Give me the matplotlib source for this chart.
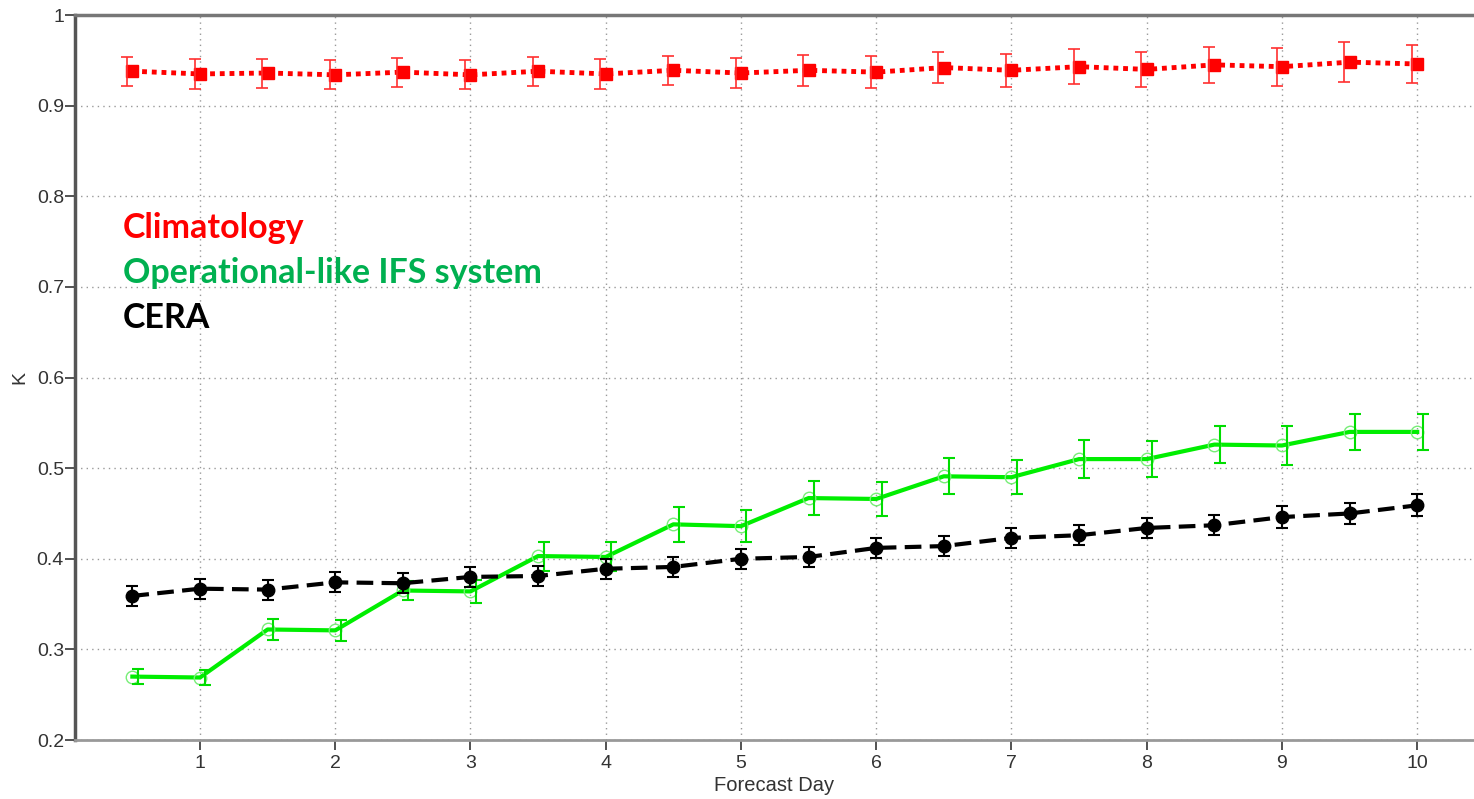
import matplotlib
matplotlib.use("Agg")
import matplotlib.pyplot as plt
import numpy as np

days = [0.5, 1, 1.5, 2, 2.5, 3, 3.5, 4, 4.5, 5, 5.5, 6, 6.5, 7, 7.5, 8, 8.5, 9, 9.5, 10]

clim = [0.938, 0.935, 0.936, 0.934, 0.937, 0.934, 0.938, 0.935, 0.939, 0.936,
        0.939, 0.937, 0.942, 0.939, 0.943, 0.940, 0.945, 0.943, 0.948, 0.946]
clim_err = [0.016, 0.017, 0.016, 0.016, 0.016, 0.016, 0.016, 0.017, 0.016, 0.017,
            0.017, 0.018, 0.017, 0.018, 0.019, 0.019, 0.020, 0.021, 0.022, 0.021]

ifs = [0.270, 0.269, 0.322, 0.321, 0.365, 0.364, 0.403, 0.402, 0.438, 0.436,
       0.467, 0.466, 0.491, 0.490, 0.510, 0.510, 0.526, 0.525, 0.540, 0.540]
ifs_err = [0.008, 0.008, 0.012, 0.012, 0.011, 0.013, 0.016, 0.016, 0.019, 0.0175,
           0.019, 0.019, 0.020, 0.019, 0.021, 0.020, 0.020, 0.021, 0.020, 0.020]

cera = [0.359, 0.367, 0.366, 0.374, 0.373, 0.380, 0.381, 0.389, 0.391, 0.400,
        0.402, 0.412, 0.414, 0.423, 0.426, 0.434, 0.437, 0.446, 0.450, 0.459]
cera_err = [0.011, 0.011, 0.011, 0.011, 0.011, 0.011, 0.011, 0.011, 0.011, 0.011,
            0.011, 0.011, 0.011, 0.011, 0.011, 0.011, 0.011, 0.012, 0.012, 0.012]

xticks = [1, 2, 3, 4, 5, 6, 7, 8, 9, 10]
yticks = [0.2, 0.3, 0.4, 0.5, 0.6, 0.7, 0.8, 0.9, 1.0]
ytick_labels = ["0.2", "0.3", "0.4", "0.5", "0.6", "0.7", "0.8", "0.9", "1"]

plt.rcParams["font.family"] = ["Liberation Sans", "DejaVu Sans"]

fig = plt.figure(figsize=(14.74, 7.99), dpi=100)
ax = fig.add_axes([0.0509, 0.0738, 0.9491, 0.9074])

d = np.array(days)

# Climatology
ax.plot(d, clim, color="#ff0000", linestyle=(0, (1, 1)), linewidth=3.5,
        marker="s", markersize=9, zorder=3)
ax.errorbar(d - 0.04, clim, yerr=clim_err, fmt="none", ecolor="#ff3030",
            elinewidth=1.2, capsize=4, capthick=1.2, zorder=3)

# IFS
ax.plot(d, ifs, color="#00ee00", linestyle="-", linewidth=3,
        marker="o", markersize=9, markerfacecolor="none",
        markeredgecolor="#77ee77", markeredgewidth=1, zorder=3)
ax.errorbar(d + 0.04, ifs, yerr=ifs_err, fmt="none", ecolor="#00dd00",
            elinewidth=1.5, capsize=4, capthick=1.5, zorder=3)

# CERA
ax.plot(d, cera, color="black", linestyle=(0, (4, 2)), linewidth=3,
        marker="o", markersize=9, zorder=4)
ax.errorbar(d, cera, yerr=cera_err, fmt="none", ecolor="black",
            elinewidth=1.5, capsize=4, capthick=1.5, zorder=4)

ax.set_xlim(0.076, 10.42)
ax.set_ylim(0.2, 1.0)
ax.set_xticks(xticks)
ax.set_xticklabels([str(t) for t in xticks])
ax.set_yticks(yticks)
ax.set_yticklabels(ytick_labels)

ax.grid(True, color="#999999", linestyle=(0, (1, 3)), linewidth=1.0)
ax.set_axisbelow(True)

ax.spines["right"].set_visible(False)
ax.spines["top"].set_color("#777777")
ax.spines["top"].set_linewidth(2.5)
ax.spines["left"].set_color("#555555")
ax.spines["left"].set_linewidth(2.5)
ax.spines["bottom"].set_color("#999999")
ax.spines["bottom"].set_linewidth(2)

ax.tick_params(axis="both", direction="out", length=7, width=1.3,
               colors="#444444", labelsize=14, labelcolor="#333333")
ax.tick_params(axis="x", pad=4)
ax.tick_params(axis="y", pad=1)

ax.set_xlabel("Forecast Day", fontsize=14.5, color="#333333", labelpad=3)
ax.set_ylabel("K", fontsize=14, color="#333333", labelpad=6)

tfont = dict(family=["Lato", "DejaVu Sans"], fontweight="bold", fontsize=24.5)
ax.text(0.034, 0.706, "Climatology", color="#ff0000", transform=ax.transAxes,
        va="center", ha="left", **tfont)
ax.text(0.034, 0.644, "Operational-like IFS system", color="#00b050",
        transform=ax.transAxes, va="center", ha="left", **tfont)
ax.text(0.034, 0.582, "CERA", color="black", transform=ax.transAxes,
        va="center", ha="left", **tfont)

fig.savefig("out.png", dpi=100)
